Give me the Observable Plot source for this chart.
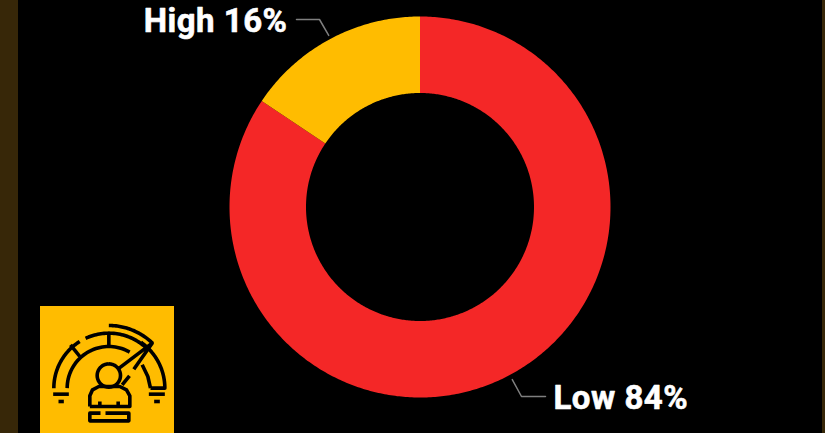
<!DOCTYPE html>
<html><head><meta charset="utf-8">
<script src="https://cdn.jsdelivr.net/npm/d3@7"></script>
<script src="https://cdn.jsdelivr.net/npm/@observablehq/plot@0.6"></script>
<style>html,body{margin:0;padding:0;background:#000;overflow:hidden}svg{display:block}svg text{letter-spacing:.5px}</style>
</head><body><div id="chart"></div>
<script>
const categories = ["Low", "High"];
const shares = [84.4, 15.6];
const sliceColors = ["#F42727", "#FFBC00"];

const W = 825, H = 433, cx = 420, cy = 207, rOuter = 190.5, rInner = 114;
const table = categories.map((name, i) => ({name, share: shares[i], color: sliceColors[i]}));
const slices = d3.pie().sort(null).value(d => d.share)(table);
const polar = (r, a) => [cx + r * Math.sin(a), cy - r * Math.cos(a)];

const ring = slices.flatMap(s => {
  const n = Math.ceil((s.endAngle - s.startAngle) * 90);
  return d3.range(n + 1).map(i => {
    const a = s.startAngle + (s.endAngle - s.startAngle) * i / n;
    const [x1, y1] = polar(rInner, a), [x2, y2] = polar(rOuter, a);
    return {name: s.data.name, color: s.data.color, x1, y1, x2, y2};
  });
});

const mid = s => (s.startAngle + s.endAngle) / 2;
const leaders = [
  {name: "Low", bend: [[521, 396], [545, 396]]},
  {name: "High", bend: [[319, 19], [296, 19]]}
].flatMap(l => {
  const s = slices.find(d => d.data.name === l.name);
  return [polar(195, mid(s)), ...l.bend].map(([x, y]) => ({name: l.name, x, y}));
});
const labelStyle = {x: "x", y: "y", text: "text", fill: "#fff", stroke: "#fff", strokeWidth: 0.6, fontFamily: "Roboto", fontWeight: 700, fontSize: 33, lineAnchor: "middle"};
const lowLabel = [{text: `Low ${Math.round(shares[0])}%`, x: 553, y: 398}];
const highLabel = [{text: `High ${Math.round(shares[1])}%`, x: 287, y: 21}];

// Icon, drawn in its own 3x grid
const ix = x => 30 + x / 3, iy = y => 296 + y / 3;
const arc = (x0, y0, r, a0, a1) => d3.range(0, 41).map(i => {
  const a = (a0 + (a1 - a0) * i / 40) * Math.PI / 180;
  return [x0 + r * Math.sin(a), y0 - r * Math.cos(a)];
});
const gx = 235, gy = 275;
const iconStrokes = [
  [[70, 275], ...arc(gx, gy, 165, -90, -32)],
  arc(gx, gy, 165, -25, 42),
  arc(gx, gy, 188, 0, 44),
  [...arc(gx, gy, 168, 35, 90), [360, 275]],
  [[110, 275], ...arc(gx, gy, 125, -90, 30)],
  [[335, 205], [352, 240], [360, 275]],
  [[120, 145], [148, 180]],
  [[235, 110], [235, 150]],
  [[262, 218], [365, 140], [310, 218]],
  [[275, 265], [297, 238]],
  arc(235, 237, 35, 0, 360),
  [[178, 330], [178, 298], [186, 280], [205, 270], [268, 270], [288, 280], [298, 298], [298, 330], [178, 330]],
  [[208, 315], [208, 330]],
  [[263, 315], [263, 330]],
  [[210, 350], [178, 350], [178, 373], [295, 373], [295, 350], [225, 350]],
  [[68, 293], [115, 293]],
  [[84, 315], [100, 315]],
  [[355, 293], [403, 293]],
  [[371, 315], [388, 315]]
].flatMap((pts, k) => pts.map(([x, y]) => ({k, x: ix(x), y: iy(y)})));

const plot = Plot.plot({
  width: W, height: H, margin: 0,
  x: {domain: [0, W], range: [0, W], axis: null},
  y: {domain: [0, H], range: [0, H], axis: null},
  style: {background: "#000"},
  marks: [
    Plot.rectY([{x1: 0, x2: 18}, {x1: 822, x2: W}], {x1: "x1", x2: "x2", y1: 0, y2: H, fill: "#372708"}),
    Plot.area(ring, {x1: "x1", y1: "y1", x2: "x2", y2: "y2", z: "name", fill: d => d.color, curve: "linear"}),
    Plot.line(leaders, {x: "x", y: "y", z: "name", stroke: "#7f7f7f", strokeWidth: 1.5, curve: "linear"}),
    Plot.text(lowLabel, {...labelStyle, textAnchor: "start"}),
    Plot.text(highLabel, {...labelStyle, textAnchor: "end"}),
    Plot.rectY([{x1: 40, x2: 174}], {x1: "x1", x2: "x2", y1: 306, y2: H, fill: "#FFBC00"}),
    Plot.line(iconStrokes, {x: "x", y: "y", z: "k", stroke: "#000", strokeWidth: 3.6, strokeLinecap: "butt", strokeLinejoin: "round", curve: "linear"})
  ]
});
document.getElementById("chart").append(plot);
</script></body></html>
